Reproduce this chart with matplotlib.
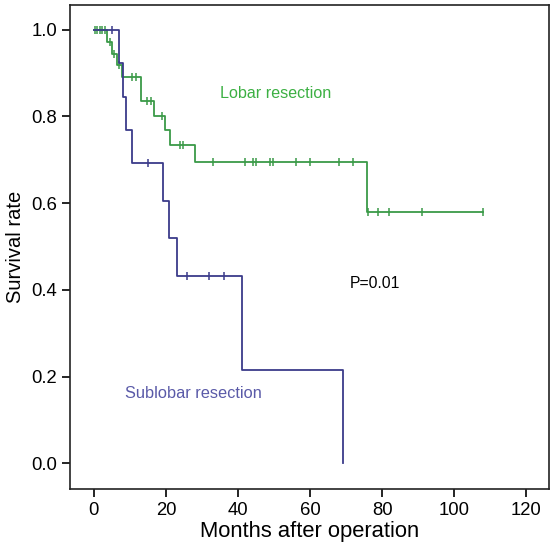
import numpy as np
import matplotlib
matplotlib.use("Agg")
import matplotlib.pyplot as plt

plt.rcParams['font.family'] = ['Liberation Sans', 'DejaVu Sans']

# Lobar resection: step times (months) and survival after each step
lobar_times = [0, 3.7, 5.0, 6.3, 7.8, 13.0, 16.7, 19.7, 21.1, 28.1, 75.9]
lobar_surv = [1.0, 0.972, 0.945, 0.918, 0.89, 0.835, 0.802, 0.768, 0.735, 0.695, 0.58]
lobar_end = 108.1
lobar_censor = [0.3, 1.0, 1.6, 2.3, 3.1, 4.4, 5.6, 7.0, 10.5, 11.8, 14.8, 15.8,
                19.0, 23.9, 24.8, 33.0, 42.0, 44.2, 45.0, 48.9, 49.8, 56.0,
                60.0, 68.1, 72.0, 76.2, 79.0, 82.0, 91.0, 108.1]

# Sublobar resection
sub_times = [0, 7.0, 8.0, 8.9, 10.7, 19.1, 20.9, 23.0, 41.0, 69.1]
sub_surv = [1.0, 0.923, 0.846, 0.769, 0.692, 0.606, 0.519, 0.433, 0.216, 0.0]
sub_end = 69.1
sub_censor = [4.9, 15.1, 25.9, 32.0, 36.1]

green = '#3a9a48'
blue = '#3b3b8a'


def surv_at(t, times, surv):
    i = np.searchsorted(times, t, side='right') - 1
    return np.array(surv)[i]


fig = plt.figure(figsize=(5.52, 5.44), dpi=100)
ax = fig.add_axes([0.127, 0.101, 0.868, 0.889])

for times, surv, end, cens, col in [
        (lobar_times, lobar_surv, lobar_end, lobar_censor, green),
        (sub_times, sub_surv, sub_end, sub_censor, blue)]:
    x = list(times) + [end]
    y = list(surv) + [surv[-1]]
    ax.step(x, y, where='post', color=col, lw=1.3)
    ax.plot(cens, surv_at(np.array(cens), times, surv), linestyle='none',
            marker='|', markersize=6, mew=1.1, color=col)

ax.text(35, 0.853, 'Lobar resection', color='#3cb043', fontsize=11.6, va='center')
ax.text(8.6, 0.162, 'Sublobar resection', color='#5a5aa8', fontsize=11.8, va='center')
ax.text(71, 0.415, 'P=0.01', color='black', fontsize=11.3, va='center')

ax.set_xlim(-6.6, 126.4)
ax.set_ylim(-0.059, 1.056)
ax.set_xticks(np.arange(0, 121, 20))
ax.set_yticks(np.arange(0, 1.01, 0.2))
ax.set_yticklabels(['%.1f' % v for v in np.arange(0, 1.01, 0.2)])
ax.tick_params(direction='out', length=6, width=1.2, labelsize=13.3)
for s in ax.spines.values():
    s.set_linewidth(1.2)
    s.set_color('#222222')

ax.set_xlabel('Months after operation', fontsize=15.8, labelpad=1)
ax.set_ylabel('Survival rate', fontsize=14.5, labelpad=4)

fig.savefig('out.png', dpi=100)
